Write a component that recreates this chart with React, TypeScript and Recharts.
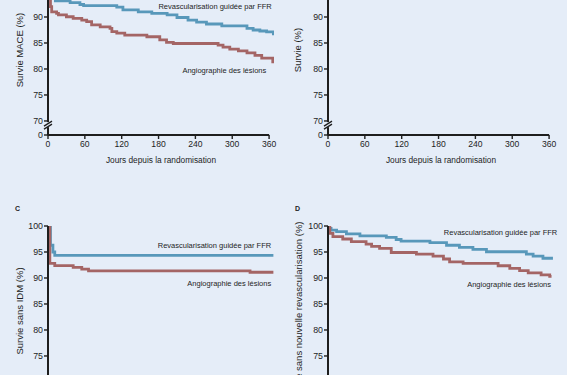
import React from 'react';
import { LineChart, Line, XAxis, YAxis, ReferenceDot, ReferenceLine, Label } from 'recharts';

// ---- data (Kaplan–Meier steps, days / survival %) ----
const X_TICKS = [0, 60, 120, 180, 240, 300, 360];
const Y_TICKS_BROKEN = [67.3, 70, 75, 80, 85, 90, 95, 100];
const Y_MIN = 67.3;

const maceFfrDays = [0, 2, 5, 12, 36, 52, 58, 112, 122, 147, 169, 194, 210, 228, 242, 258, 283, 324, 334, 345, 356, 367];
const maceFfrSurv = [100, 96, 94.5, 93.1, 92.75, 92.4, 92.2, 91.9, 91.35, 91.0, 90.7, 90.4, 89.9, 89.4, 89.0, 88.65, 88.3, 87.8, 87.5, 87.3, 87.15, 86.5];

const maceAngioDays = [0, 2, 4, 6, 14, 17, 30, 41, 55, 63, 71, 85, 101, 104, 112, 125, 161, 182, 193, 204, 277, 285, 296, 310, 324, 337, 348, 366];
const maceAngioSurv = [100, 94, 92, 91.0, 90.7, 90.4, 90.05, 89.75, 89.4, 89.1, 88.5, 88.1, 87.8, 87.2, 86.9, 86.5, 86.2, 85.6, 85.1, 84.9, 84.6, 84.2, 83.8, 83.5, 83.1, 82.6, 82.1, 81.1];

const idmFfrDays = [0, 4, 8, 11, 367];
const idmFfrSurv = [100, 96.3, 95.0, 94.36, 94.36];

const idmAngioDays = [0, 3, 11, 41, 55, 66, 329, 367];
const idmAngioSurv = [100, 92.8, 92.37, 92.05, 91.7, 91.35, 91.1, 91.1];

const revFfrDays = [0, 2, 5, 14, 30, 52, 95, 111, 119, 166, 193, 214, 236, 258, 323, 334, 350, 364];
const revFfrSurv = [100, 99.55, 99.2, 98.9, 98.5, 98.1, 97.8, 97.4, 97.1, 96.8, 96.3, 95.9, 95.5, 95.05, 94.6, 94.2, 93.8, 93.5];

const revAngioDays = [0, 3, 8, 24, 38, 62, 71, 84, 103, 144, 171, 188, 198, 220, 277, 296, 312, 326, 347, 361, 364];
const revAngioSurv = [100, 98.6, 97.95, 97.5, 97.0, 96.5, 96.1, 95.7, 94.9, 94.6, 94.2, 93.65, 93.1, 92.8, 92.35, 91.85, 91.4, 91.0, 90.6, 90.3, 90.3];

const FFR_NAME = 'Revascularisation guidée par FFR';
const ANGIO_NAME = 'Angiographie des lésions';
const X_TITLE = 'Jours depuis la randomisation';

const BG = '#e5edf8';
const BLUE = '#5898ba';
const RED = '#a46565';
const INK = '#1e1e1e';
const FONT = "'Liberation Sans', Arial, sans-serif";

const zip = (d: number[], v: number[]) => d.map((x, i) => ({ d: x, v: v[i] }));

type Note = { x: number; y: number; text: string; pos: 'left' | 'right' };

const BreakMark = (p: any) => {
  const { cx, cy } = p;
  if (cx == null || cy == null) return null;
  return (
    <g>
      <rect x={cx - 3} y={cy - 3} width={6} height={5} fill={BG} />
      <line x1={cx - 4} y1={cy + 1} x2={cx + 4} y2={cy - 4} stroke={INK} strokeWidth={1.3} />
      <line x1={cx - 4} y1={cy + 4} x2={cx + 4} y2={cy - 1} stroke={INK} strokeWidth={1.3} />
    </g>
  );
};

function Panel(props: {
  left: number;
  top: number;
  yTitle: string;
  titleOffset: number;
  ffr?: { d: number; v: number }[];
  angio?: { d: number; v: number }[];
  notes: Note[];
}) {
  const { left, top, yTitle, titleOffset, ffr, angio, notes } = props;
  return (
    <div style={{ position: 'absolute', left, top }}>
      <LineChart width={284} height={225} margin={{ top: 10, right: 10, bottom: 5, left: 0 }}>
        <XAxis
          type="number"
          dataKey="d"
          domain={[0, 368]}
          allowDataOverflow
          ticks={X_TICKS}
          axisLine={false}
          tickLine={{ stroke: INK, strokeWidth: 1.4 }}
          tickSize={4}
          tickMargin={2}
          height={40}
          tick={{ fontSize: 8.6, fill: INK }}
          interval={0}
        >
          <Label value={X_TITLE} position="insideBottom" offset={12} fontSize={8.3} fill={INK} />
        </XAxis>
        <YAxis
          type="number"
          dataKey="v"
          domain={[Y_MIN, 100]}
          allowDataOverflow
          ticks={Y_TICKS_BROKEN}
          tickFormatter={(t: number) => (t === Y_MIN ? '0' : String(t))}
          axisLine={{ stroke: INK, strokeWidth: 2 }}
          tickLine={{ stroke: INK, strokeWidth: 1.4 }}
          tickSize={4}
          tickMargin={1}
          width={48}
          tick={{ fontSize: 8.8, fill: INK }}
          interval={0}
        >
          <Label
            value={yTitle}
            angle={-90}
            position="insideLeft"
            offset={titleOffset}
            fontSize={9.5}
            fill={INK}
            style={{ textAnchor: 'middle' }}
          />
        </YAxis>
        <ReferenceLine
          segment={[
            { x: 0, y: Y_MIN },
            { x: 360, y: Y_MIN },
          ]}
          stroke={INK}
          strokeWidth={2}
          ifOverflow="visible"
        />
        {ffr && (
          <Line data={ffr} dataKey="v" type="stepAfter" stroke={BLUE} strokeWidth={2.8} dot={false} isAnimationActive={false} />
        )}
        {angio && (
          <Line data={angio} dataKey="v" type="stepAfter" stroke={RED} strokeWidth={2.8} dot={false} isAnimationActive={false} />
        )}
        <ReferenceDot x={0} y={69.2} r={4} shape={BreakMark} ifOverflow="visible" />
        {notes.map((n, i) => (
          <ReferenceDot key={i} x={n.x} y={n.y} r={1} fill="none" stroke="none" ifOverflow="visible">
            <Label value={n.text} position={n.pos} offset={0} fontSize={7.5} fill={INK} />
          </ReferenceDot>
        ))}
      </LineChart>
    </div>
  );
}

export default function App() {
  return (
    <div
      style={{
        position: 'fixed',
        left: 0,
        top: 0,
        width: 567,
        height: 375,
        overflow: 'hidden',
        background: BG,
        fontFamily: FONT,
      }}
    >
      <Panel
        left={0}
        top={-45}
        yTitle="Survie MACE (%)"
        titleOffset={20}
        ffr={zip(maceFfrDays, maceFfrSurv)}
        angio={zip(maceAngioDays, maceAngioSurv)}
        notes={[
          { x: 366, y: 92.1, text: FFR_NAME, pos: 'left' },
          { x: 357, y: 79.8, text: ANGIO_NAME, pos: 'left' },
        ]}
      />
      <Panel left={280} top={-45} yTitle="Survie (%)" titleOffset={18} notes={[]} />
      <Panel
        left={0}
        top={216}
        yTitle="Survie sans IDM (%)"
        titleOffset={19.5}
        ffr={zip(idmFfrDays, idmFfrSurv)}
        angio={zip(idmAngioDays, idmAngioSurv)}
        notes={[
          { x: 365, y: 96.35, text: FFR_NAME, pos: 'left' },
          { x: 365, y: 89.04, text: ANGIO_NAME, pos: 'left' },
        ]}
      />
      <Panel
        left={280}
        top={216}
        yTitle="Survie sans nouvelle revascularisation (%)"
        titleOffset={18.5}
        ffr={zip(revFfrDays, revFfrSurv)}
        angio={zip(revAngioDays, revAngioSurv)}
        notes={[
          { x: 187, y: 98.85, text: FFR_NAME, pos: 'right' },
          { x: 225, y: 88.85, text: ANGIO_NAME, pos: 'right' },
        ]}
      />
      <span style={{ position: 'absolute', left: 15, top: 205, fontSize: 7, fontWeight: 'bold', color: INK }}>C</span>
      <span style={{ position: 'absolute', left: 295, top: 205, fontSize: 7, fontWeight: 'bold', color: INK }}>D</span>
    </div>
  );
}
